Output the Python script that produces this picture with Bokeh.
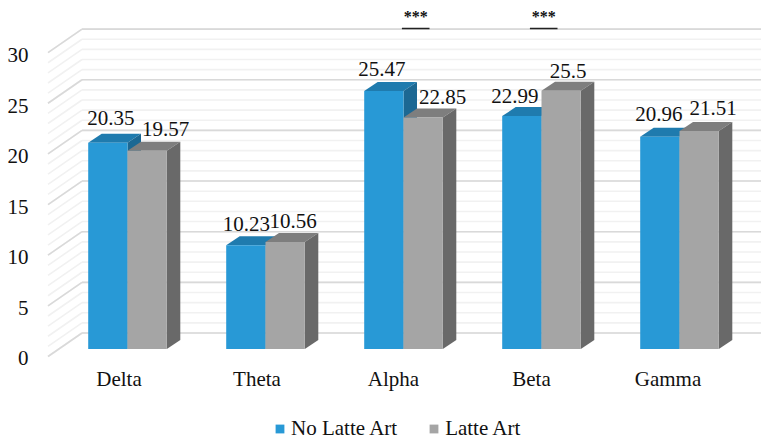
from bokeh.embed import file_html
from bokeh.resources import INLINE
from bokeh.plotting import figure
from bokeh.core.properties import value
from bokeh.models import (ColumnDataSource, FixedTicker, Legend, LegendItem,
                          LinearAxis, Range1d)

bands = ["Delta", "Theta", "Alpha", "Beta", "Gamma"]
no_latte_art = [20.35, 10.23, 25.47, 22.99, 20.96]
latte_art = [19.57, 10.56, 22.85, 25.50, 21.51]
significant_bands = ["Alpha", "Beta"]
y_ticks = [0, 5, 10, 15, 20, 25, 30]

# Label nudges in pixels, relative to the front top edge of each bar
no_art_dx = [3, 0.5, -2, -7, -1]
no_art_dy = [25, 21, 21.5, 20.5, 22.5]
art_dx = [18.5, 8, 19.5, 7, 14]
art_dy = [22, 21.5, 21, 20, 23.5]
sig_dx = [12.2, 2.2]
band_dx = [-8.5, -8.5, -10, -10, -11.5]

W, H = 761, 440
LEFT = 34
GROUP_PX = 138.0     # pixels between categories
UNIT_PX = 10.13      # pixels per value unit
ZERO_X, ZERO_Y = 127.0, 348.5   # pixel position of the first group's centre at zero
BAR = 39.3 / GROUP_PX
DEPTH_X, DEPTH_Y = 13.5 / GROUP_PX, 9 / UNIT_PX
FONT = "Liberation Serif"

p = figure(width=W, height=H, output_backend="svg", toolbar_location=None,
           x_range=Range1d((LEFT - ZERO_X) / GROUP_PX, (W - ZERO_X) / GROUP_PX),
           y_range=Range1d((ZERO_Y - H) / UNIT_PX, ZERO_Y / UNIT_PX),
           min_border_left=LEFT, min_border_right=0, min_border_top=0,
           min_border_bottom=0, outline_line_color=None,
           x_axis_location=None, y_axis_location=None)
p.grid.visible = False
p.background_fill_color = "white"
p.border_fill_color = "white"

# Back wall and floor: one line for every value unit, heavier at each tick
wall_x = (81.5 - ZERO_X) / GROUP_PX
front_x = (47.5 - ZERO_X) / GROUP_PX
back_lift = 16 / UNIT_PX
front_drop = 7.5 / UNIT_PX
for step, colour in ((1, "#F1F1F1"), (5, "#D9D9D9")):
    levels = list(range(0, 31, step))
    back = [v + back_lift for v in levels]
    front = [v - front_drop for v in levels]
    p.segment(x0=[wall_x] * len(levels), y0=back, x1=[p.x_range.end] * len(levels), y1=back,
              line_color=colour, line_width=1.6)
    p.segment(x0=[front_x] * len(levels), y0=front, x1=[wall_x] * len(levels), y1=back,
              line_color=colour, line_width=1.6)


def draw_series(values, offset, front_colour, top_colour, side_colour):
    """Draws one series as extruded bars; returns the front-face renderer."""
    left = [i + offset for i in range(len(values))]
    right = [x + BAR for x in left]
    tops_x = [[a, b, b + DEPTH_X, a + DEPTH_X] for a, b in zip(left, right)]
    tops_y = [[v, v, v + DEPTH_Y, v + DEPTH_Y] for v in values]
    sides_x = [[b, b + DEPTH_X, b + DEPTH_X, b] for b in right]
    sides_y = [[v, v + DEPTH_Y, DEPTH_Y, 0] for v in values]
    p.patches(tops_x, tops_y, fill_color=top_colour, line_color=None)
    p.patches(sides_x, sides_y, fill_color=side_colour, line_color=None)
    return p.vbar(x=[a + BAR / 2 for a in left], top=values, width=BAR, bottom=0,
                  fill_color=front_colour, line_color=None)


blue = draw_series(no_latte_art, -BAR, "#2899D6", "#1F7BAE", "#1C6893")
grey = draw_series(latte_art, 0, "#A5A5A5", "#7E7E7E", "#696969")


def value_labels(values, centre, dx, dy):
    text = [str(v).rstrip("0") if v == 25.5 else f"{v:.2f}" for v in values]
    src = ColumnDataSource(dict(x=[i + centre for i in range(len(values))], y=values,
                                text=text, dx=dx, dy=[-d for d in dy]))
    p.text(x="x", y="y", text="text", x_offset="dx", y_offset="dy", source=src,
           text_font=value(FONT), text_font_size="21px", text_color="#111111",
           text_align="center", text_baseline="alphabetic")


value_labels(no_latte_art, -BAR / 2, no_art_dx, no_art_dy)
value_labels(latte_art, BAR / 2, art_dx, art_dy)

# Significance markers above the two bands that differ
sig_x = [bands.index(b) + d / GROUP_PX for b, d in zip(significant_bands, sig_dx)]
sig_y = [(ZERO_Y - 28) / UNIT_PX] * len(sig_x)
p.segment(x0=[x - 0.1 for x in sig_x], y0=sig_y, x1=[x + 0.1 for x in sig_x], y1=sig_y,
          line_color="#222222", line_width=1.6)
p.text(x=sig_x, y=sig_y, text=["***"] * len(sig_x), y_offset=-12,
       text_font=value(FONT), text_font_size="16px", text_font_style="bold", text_color="#111111",
       text_align="center", text_baseline="alphabetic")

# The value axis sits on the front edge of the floor, so it runs on a range of its own
label_zero_y = 357.5
label_unit = 10.1
p.extra_y_ranges["labels"] = Range1d((label_zero_y - H) / label_unit, label_zero_y / label_unit)
y_axis = LinearAxis(y_range_name="labels", ticker=FixedTicker(ticks=y_ticks),
                    axis_line_color=None, major_tick_line_color=None, minor_tick_line_color=None,
                    major_label_standoff=0, major_label_text_font=FONT,
                    major_label_text_font_size="21px", major_label_text_color="#111111")
p.add_layout(y_axis, "left")

# Band names below the floor
band_x = [i + d / GROUP_PX for i, d in enumerate(band_dx)]
p.text(x=band_x, y=[(ZERO_Y - 387) / UNIT_PX] * len(bands), text=bands, y_offset=-9,
       text_font=value(FONT), text_font_size="21px", text_color="#111111",
       text_align="center", text_baseline="alphabetic")

legend = Legend(items=[LegendItem(label="No Latte Art", renderers=[blue]),
                       LegendItem(label="Latte Art", renderers=[grey])],
                orientation="horizontal", location=(240, -1), padding=0, margin=0, spacing=31,
                border_line_color=None, background_fill_alpha=0,
                glyph_width=11, glyph_height=11, label_standoff=6,
                label_text_font=FONT, label_text_font_size="21px", label_text_color="#111111")
p.add_layout(legend, "center")

open("out.html", "w").write(file_html(p, INLINE))
